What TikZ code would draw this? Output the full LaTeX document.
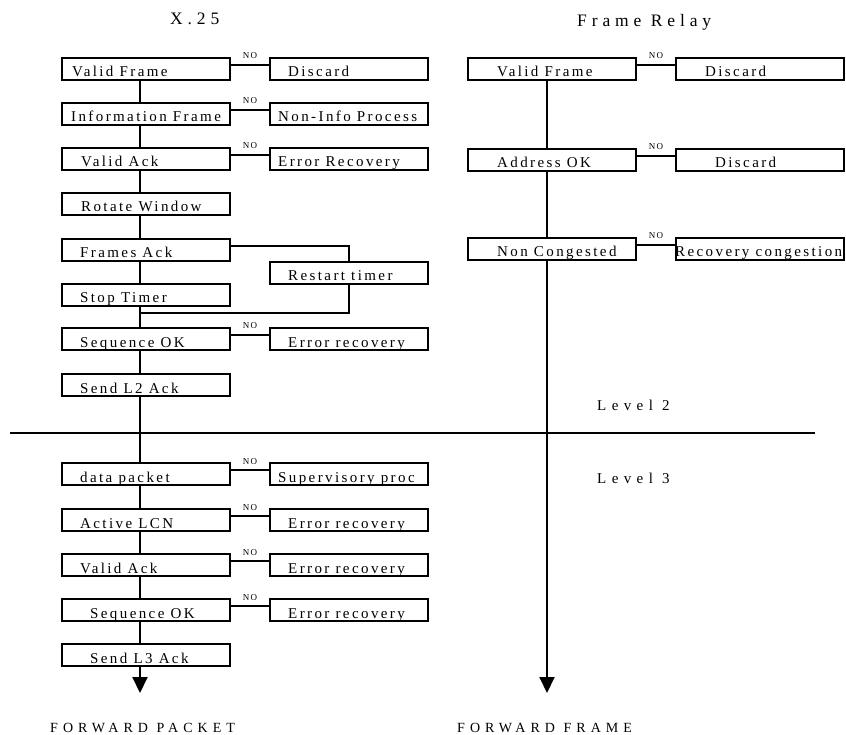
\documentclass[tikz,border=0pt]{standalone}
\usepackage{fontspec}
\setmainfont{Liberation Serif}
\newfontfamily\spfont[LetterSpace=16]{Liberation Serif}
\newfontfamily\widefont[LetterSpace=28]{Liberation Serif}
\newfontfamily\widerfont[LetterSpace=36]{Liberation Serif}
\usetikzlibrary{arrows.meta}

\tikzset{
  box/.style={draw, line width=2pt, minimum width=168pt, minimum height=22pt, inner sep=0pt},
  sbox/.style={box, minimum width=158pt},
  lbl/.style={anchor=base west, inner sep=0pt, font=\spfont\fontsize{15}{15}\selectfont},
  no/.style={anchor=base, inner sep=0pt, yshift=6pt, font=\spfont\fontsize{9}{9}\selectfont},
  ttl/.style={anchor=base west, inner sep=0pt, font=\widefont\fontsize{17.5}{17.5}\selectfont},
  lvl/.style={anchor=base west, inner sep=0pt, font=\widerfont\fontsize{15}{15}\selectfont},
  fwd/.style={anchor=base west, inner sep=0pt, font=\widerfont\fontsize{14}{14}\selectfont},
  link/.style={line width=2pt},
  endtip/.style={-{Triangle[width=15pt,length=16pt]}},
}

% #1 style, #2 name, #3 centre x, #4 centre y, #5 text left x, #6 text
\newcommand\flowbox[6]{%
  \node[#1] (#2) at (#3,#4) {};
  \node[lbl] (#2-t) at (#5,#4+8) {#6};
}
% "NO" branch from a test box to its side box
\newcommand\nolink[3]{%
  \draw[link] ([yshift=4pt]#1.east) -- node[no] (#3) {NO} ([yshift=4pt]#2.west);
}

\begin{document}
\begin{tikzpicture}[x=1pt,y=-1pt]
\useasboundingbox (0,0) rectangle (846,735);

% titles
\node[ttl] (tx25) at (170,25) {X.25};
\node[ttl] (tfr) at (577,27) {Frame Relay};

% X.25 main column
\flowbox{box}{vf}{146}{69}{72}{Valid Frame}
\flowbox{box}{if}{146}{114}{71}{Information Frame}
\flowbox{box}{va}{146}{159}{81}{Valid Ack}
\flowbox{box}{rw}{146}{204}{81}{Rotate Window}
\flowbox{box}{fa}{146}{250}{80}{Frames Ack}
\flowbox{box}{st}{146}{295}{80}{Stop Timer}
\flowbox{box}{so}{146}{339}{80}{Sequence OK}
\flowbox{box}{sl2}{146}{385}{80}{Send L2 Ack}
\flowbox{box}{dp}{146}{474}{80}{data packet}
\flowbox{box}{al}{146}{520}{80}{Active LCN}
\flowbox{box}{va3}{146}{565}{80}{Valid Ack}
\flowbox{box}{so3}{146}{610}{90}{Sequence OK}
\flowbox{box}{sl3}{146}{655}{90}{Send L3 Ack}

% X.25 side boxes
\flowbox{sbox}{d1}{349}{69}{288}{Discard}
\flowbox{sbox}{nip}{349}{114}{278}{Non-Info Process}
\flowbox{sbox}{er1}{349}{159}{278}{Error Recovery}
\flowbox{sbox}{rt}{349}{273}{288}{Restart timer}
\flowbox{sbox}{er2}{349}{339}{288}{Error recovery}
\flowbox{sbox}{sp}{349}{474}{278}{Supervisory proc}
\flowbox{sbox}{er3}{349}{520}{288}{Error recovery}
\flowbox{sbox}{er4}{349}{565}{288}{Error recovery}
\flowbox{sbox}{er5}{349}{610}{288}{Error recovery}

% Frame Relay column
\flowbox{box}{fvf}{552}{69}{497}{Valid Frame}
\flowbox{box}{fao}{552}{160}{497}{Address OK}
\flowbox{box}{fnc}{552}{249}{497}{Non Congested}
\flowbox{box}{fd1}{760}{69}{705}{Discard}
\flowbox{box}{fd2}{760}{160}{715}{Discard}
\flowbox{box}{frc}{760}{249}{675}{Recovery congestion}

% spines
\coordinate (spL) at (140,0);
\coordinate (spR) at (547,0);
\coordinate (jn) at (140,313);
\coordinate (endL) at (140,693);
\coordinate (endR) at (547,693);

\draw[link] (vf.south -| spL) -- (if.north -| spL);
\draw[link] (if.south -| spL) -- (va.north -| spL);
\draw[link] (va.south -| spL) -- (rw.north -| spL);
\draw[link] (rw.south -| spL) -- (fa.north -| spL);
\draw[link] (fa.south -| spL) -- (st.north -| spL);
\draw[link] (st.south -| spL) -- (so.north -| spL);
\draw[link] (so.south -| spL) -- (sl2.north -| spL);
\draw[link] (sl2.south -| spL) -- (dp.north -| spL);
\draw[link] (dp.south -| spL) -- (al.north -| spL);
\draw[link] (al.south -| spL) -- (va3.north -| spL);
\draw[link] (va3.south -| spL) -- (so3.north -| spL);
\draw[link] (so3.south -| spL) -- (sl3.north -| spL);
\draw[link,endtip] (sl3.south -| spL) -- (endL);

\draw[link] (fvf.south -| spR) -- (fao.north -| spR);
\draw[link] (fao.south -| spR) -- (fnc.north -| spR);
\draw[link,endtip] (fnc.south -| spR) -- (endR);

% restart timer loop
\draw[link] ([yshift=4pt]fa.east) -| (rt.north);
\draw[link] (rt.south) |- (jn);

% NO branches
\nolink{vf}{d1}{no1}
\nolink{if}{nip}{no2}
\nolink{va}{er1}{no3}
\nolink{so}{er2}{no4}
\nolink{dp}{sp}{no5}
\nolink{al}{er3}{no6}
\nolink{va3}{er4}{no7}
\nolink{so3}{er5}{no8}
\nolink{fvf}{fd1}{no9}
\nolink{fao}{fd2}{no10}
\nolink{fnc}{frc}{no11}

% level divider
\coordinate (hl) at (10,433);
\coordinate (hr) at (815,433);
\draw[line width=1.6pt] (hl) -- (hr);
\node[lvl] (lv2) at (597,410) {Level 2};
\node[lvl] (lv3) at (597,483) {Level 3};

% outputs
\node[fwd] (fp) at (50,732) {FORWARD PACKET};
\node[fwd] (ff) at (457,732) {FORWARD FRAME};
\end{tikzpicture}
\end{document}
